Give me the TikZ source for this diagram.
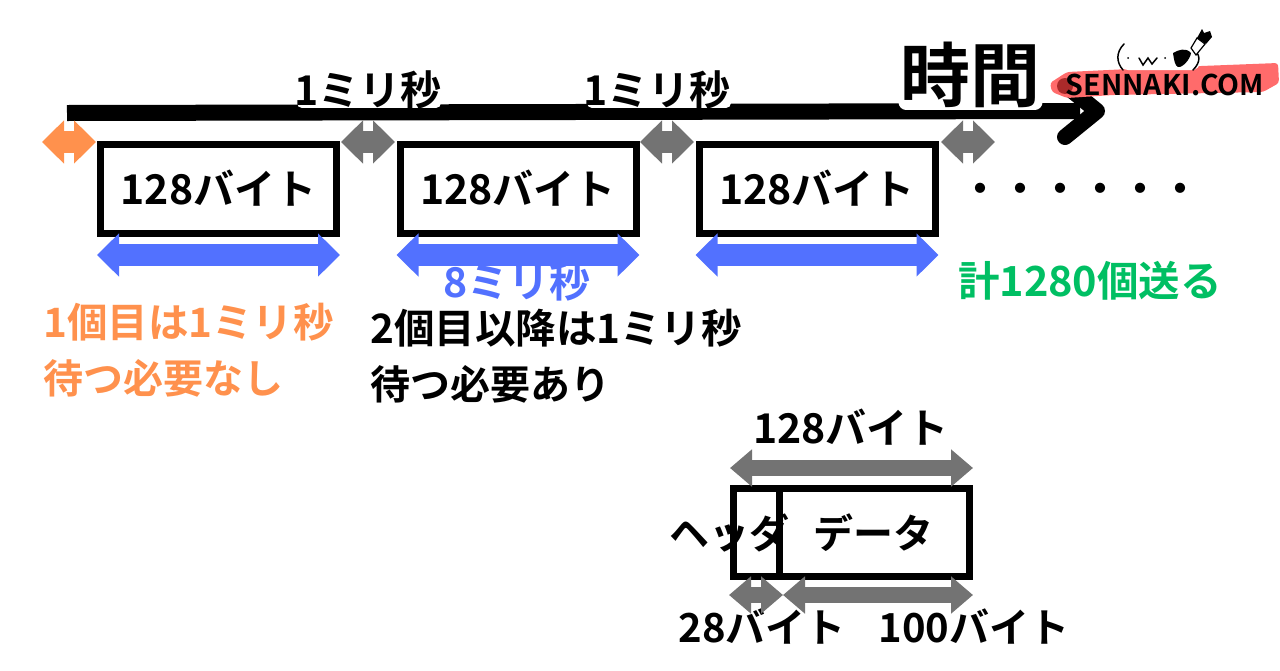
\documentclass[tikz,border=0pt]{standalone}
\usepackage{fontspec}
\usetikzlibrary{arrows.meta}
\setmainfont{Noto Sans CJK JP}[BoldFont={* Bold}]
\definecolor{orangeC}{HTML}{FF914D}
\definecolor{blueC}{HTML}{5271FF}
\definecolor{grayC}{HTML}{737373}
\definecolor{greenC}{HTML}{00BF63}
\definecolor{pinkC}{HTML}{FF6B6B}
\definecolor{darkpinkC}{HTML}{AA2A2A}
\tikzset{
  txt/.style={inner sep=0pt, font=\bfseries\fontsize{40}{48}\selectfont},
  packet/.style={draw, line width=7pt, minimum width=236pt, minimum height=89pt, inner sep=0pt},
  bothbig/.style={line width=22pt, {Triangle[length=22pt,width=42pt]}-{Triangle[length=22pt,width=42pt]}},
  bothsmall/.style={line width=16pt, {Triangle[length=22pt,width=36pt]}-{Triangle[length=22pt,width=36pt]}},
  faceline/.style={line width=1.5pt, line cap=round},
}
\begin{document}
\begin{tikzpicture}[x=1pt, y=-1pt]
  \useasboundingbox (0,0) rectangle (1280,670);

  % time axis
  \coordinate (timestart) at (67,113);
  \coordinate (timetip) at (1097,111);
  \coordinate (timeup) at (1065,85);
  \coordinate (timedown) at (1065,137);
  \draw[line width=16pt] (timestart) -- (1080,111);
  \draw[line width=16pt, line cap=round, line join=round] (timeup) -- (timetip) -- (timedown);

  % white edge of the labels on the axis
  \foreach \x in {302,592}
    \draw[white, line width=10pt, line cap=round] (\x,103) -- (\x+134,103);
  \draw[white, line width=15pt, line cap=round] (906,102) -- (1035,102);

  % logo
  \fill[pinkC, rounded corners=3pt] (1050,83) -- (1067,72) -- (1150,68) -- (1278,63) -- (1279,83) -- (1263,92)
    -- (1113,95) -- (1067,98) -- (1052,92) -- cycle;
  \fill[darkpinkC] (1065,86) circle (8);
  \fill[white, rounded corners=8pt] (1120,42) rectangle (1200,70);
  \node[inner sep=0pt] (logoname) at (1165,85) {\bfseries\fontsize{28.5}{30}\selectfont SENNAKI.COM};
  \draw[faceline] (1124,44) .. controls (1116,52) and (1116,62) .. (1123,70);
  \fill (1128,58) circle (1);
  \draw[faceline] (1139,58) -- (1143,65) -- (1148,58) -- (1152,64) -- (1157,58);
  \fill (1165,58) circle (1);
  \fill (1173,53) .. controls (1178,50) and (1186,47) .. (1191,53) .. controls (1190,60) and (1182,68) .. (1178,67) .. controls (1175,66) and (1174,60) .. (1173,53) -- cycle;
  \draw[faceline] (1192,48) .. controls (1201,54) and (1201,62) .. (1193,70);
  \filldraw[fill=white, line width=1.2pt] (1191,48) -- (1197,38) -- (1205,44) -- (1196,55) -- cycle;
  \fill (1197,38) -- (1202,29) -- (1204,33) -- (1210,31) -- (1212,37) -- (1206,44) -- cycle;

  \node[txt] (time) at (970,75) {\fontsize{70}{80}\selectfont 時間};
  \node[txt] (wait1) at (368,90) {\fontsize{41}{48}\selectfont 1ミリ秒};
  \node[txt] (wait2) at (657,90) {\fontsize{41}{48}\selectfont 1ミリ秒};

  % packets and their arrows
  \foreach \i/\x in {1/218.5,2/518,3/817}{
    \node[packet, txt] (box\i) at (\x,188.5) {\fontsize{41}{48}\selectfont 128バイト};
    \draw[bothbig, blueC] ([yshift=-18.5pt]box\i.south west) -- ([yshift=-18.5pt]box\i.south east);
  }
  \coordinate (gap0a) at (42,142);
  \coordinate (gap0b) at (96,142);
  \coordinate (gap1a) at (341,142);
  \coordinate (gap1b) at (395,142);
  \coordinate (gap2a) at (640,142);
  \coordinate (gap2b) at (694,142);
  \coordinate (gap3a) at (941,142);
  \coordinate (gap3b) at (995,142);
  \draw[bothbig, orangeC] (gap0a) -- (gap0b);
  \foreach \i in {1,2,3}
    \draw[bothbig, grayC] (gap\i a) -- (gap\i b);

  \node[txt] (dots) at (1080,193) {・・・・・・};
  \node[txt, blueC] (eight) at (517,282) {\fontsize{41}{48}\selectfont 8ミリ秒};
  \node[txt, greenC] (total) at (1090,281) {\fontsize{41.5}{48}\selectfont 計1280個送る};
  \node[txt, orangeC, anchor=west] (first1) at (43,322) {\fontsize{40.5}{48}\selectfont 1個目は1ミリ秒};
  \node[txt, orangeC, anchor=west] (first2) at (43,378) {待つ必要なし};
  \node[txt, anchor=west] (later1) at (370,328) {\fontsize{40.5}{48}\selectfont 2個目以降は1ミリ秒};
  \node[txt, anchor=west] (later2) at (370,384) {待つ必要あり};

  % packet layout
  \node[draw, line width=7pt, minimum width=236pt, minimum height=88pt, inner sep=0pt] (frame) at (851,532.5) {};
  \draw[line width=7pt] (779,485) -- (779,580);
  \node[txt] (head) at (729,533) {ヘッダ};
  \node[txt] (body) at (873,533) {データ};
  \node[txt] (total128) at (851,427) {\fontsize{41}{48}\selectfont 128バイト};
  \node[txt] (size28) at (762,627) {28バイト};
  \node[txt] (size100) at (974,627) {100バイト};
  \coordinate (alla) at (730,468);
  \coordinate (allb) at (973,468);
  \coordinate (heada) at (729,595);
  \coordinate (headb) at (783,595);
  \coordinate (bodya) at (783,595);
  \coordinate (bodyb) at (973,595);
  \draw[bothsmall, grayC] (alla) -- (allb);
  \draw[bothsmall, grayC] (heada) -- (headb);
  \draw[bothsmall, grayC] (bodya) -- (bodyb);
\end{tikzpicture}
\end{document}
